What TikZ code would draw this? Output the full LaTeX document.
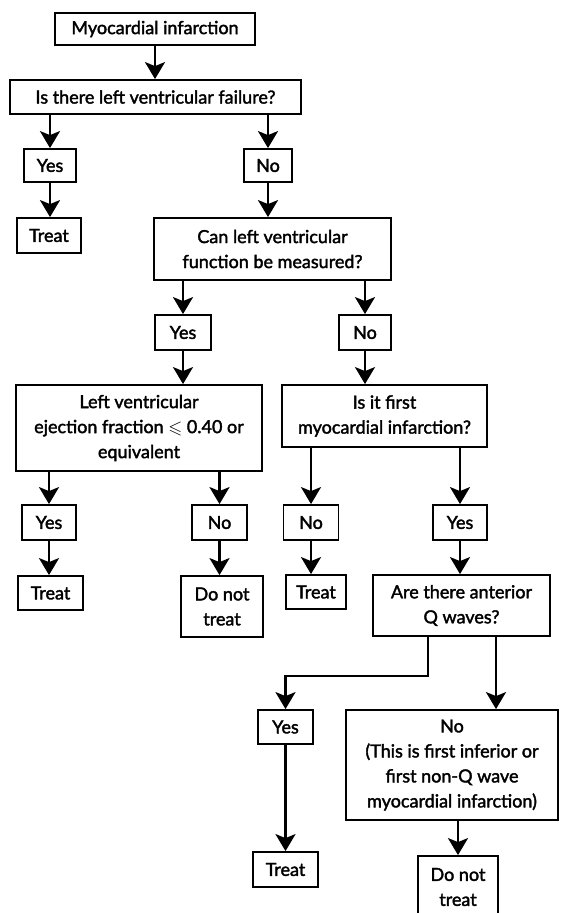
\documentclass[tikz,border=0pt]{standalone}
\usepackage{fontspec}
\setmainfont{Lato}[FakeBold = 2]
\usepackage{amssymb}
\usetikzlibrary{arrows.meta}

\begin{document}
\begin{tikzpicture}[x = 1pt, y = -1pt, > = {Stealth[length = 17pt, width = 20pt, inset = 4pt]},
	box/.style = {draw, line width = 1.8pt, align = center, inner sep = 2pt, font = \fontsize{18}{25}\selectfont},
	link/.style = {->, line width = 2.4pt}]
\useasboundingbox (0, 0) rectangle (560, 913);

	% first question
	\node [box, minimum width = 200pt, minimum height = 32pt] (mi) at (155, 29) {Myocardial infarction};
	\node [box, minimum width = 291pt, minimum height = 34pt] (lvf) at (155.5, 97) {Is there left ventricular failure?};
	\node [box, minimum width = 52pt, minimum height = 33pt] (yes1) at (50, 165.5) {Yes};
	\node [box, minimum width = 48pt, minimum height = 33pt] (no1) at (268, 165.5) {No};
	\node [box, minimum width = 64pt, minimum height = 35pt] (treat1) at (49, 235.5) {Treat};
	
	\draw [link] (mi.south) -- (mi.south |- lvf.north);
	\draw [link] (lvf.south -| yes1.north) -- (yes1.north);
	\draw [link] (lvf.south -| no1.north) -- (no1.north);
	\draw [link] (yes1.south) -- (yes1.south |- treat1.north);
	
	% can it be measured?
	\node [box, minimum width = 237pt, minimum height = 62pt] (can) at (272.5, 249) {Can left ventricular\\function be measured?};
	\node [box, minimum width = 56pt, minimum height = 35pt] (yes2) at (183, 332.5) {Yes};
	\node [box, minimum width = 52pt, minimum height = 35pt] (no2) at (365, 332.5) {No};
	
	\draw [link] (no1.south) -- (no1.south |- can.north);
	\draw [link] (can.south -| yes2.north) -- (yes2.north);
	\draw [link] (can.south -| no2.north) -- (no2.north);
	
	% ejection fraction / first infarction
	\node [box, minimum width = 246pt, minimum height = 86pt] (lv) at (139, 428) {Left ventricular\\ejection fraction $\leqslant$ 0.40 or\\equivalent};
	\node [box, minimum width = 205pt, minimum height = 62pt] (first) at (384.5, 416) {Is it first\\myocardial infarction?};
	
	\draw [link] (yes2.south) -- (yes2.south |- lv.north);
	\draw [link] (no2.south) -- (no2.south |- first.north);
	
	\node [box, minimum width = 54pt, minimum height = 35pt] (yes3) at (49, 522.5) {Yes};
	\node [box, minimum width = 55pt, minimum height = 35pt] (no3) at (219.5, 522.5) {No};
	\node [box, minimum width = 55pt, minimum height = 35pt] (no4) at (311, 522.5) {No};
	\node [box, minimum width = 54pt, minimum height = 35pt] (yes4) at (460, 522.5) {Yes};
	
	\draw [link] (lv.south -| yes3.north) -- (yes3.north);
	\draw [link] (lv.south -| no3.north) -- (no3.north);
	\draw [link] (first.south -| no4.north) -- (no4.north);
	\draw [link] (first.south -| yes4.north) -- (yes4.north);
	
	\node [box, minimum width = 65pt, minimum height = 34pt] (treat2) at (50.5, 593) {Treat};
	\node [box, minimum width = 82pt, minimum height = 61pt] (dnt1) at (222, 606.5) {Do not\\treat};
	\node [box, minimum width = 60pt, minimum height = 34pt] (treat3) at (316, 592) {Treat};
	\node [box, minimum width = 177pt, minimum height = 61pt] (ant) at (461.5, 605.5) {Are there anterior\\Q waves?};
	
	\draw [link] (yes3.south) -- (yes3.south |- treat2.north);
	\draw [link] (no3.south) -- (no3.south |- dnt1.north);
	\draw [link] (no4.south) -- (no4.south |- treat3.north);
	\draw [link] (yes4.south) -- (yes4.south |- ant.north);
	
	% anterior Q waves
	\node [box, minimum width = 55pt, minimum height = 34pt] (yes5) at (285.5, 727) {Yes};
	\node [box, minimum width = 212pt, minimum height = 110pt] (nobig) at (452, 765) {No\\(This is first inferior or\\first non-Q wave\\myocardial infarction)};
	\node [box, minimum width = 65pt, minimum height = 35pt] (treat4) at (285.5, 869.5) {Treat};
	\node [box, minimum width = 80pt, minimum height = 62pt] (dnt2) at (458, 887) {Do not\\treat};
	
	\draw [link] ([xshift = -33.5pt] ant.south) -- ++(0, 39) -| (yes5.north);
	\draw [link] ([xshift = 34.5pt] ant.south) -- ([xshift = 34.5pt] ant.south |- nobig.north);
	\draw [link] (yes5.south) -- (yes5.south |- treat4.north);
	\draw [link] (nobig.south -| dnt2.north) -- (dnt2.north);
	
\end{tikzpicture}
\end{document}
